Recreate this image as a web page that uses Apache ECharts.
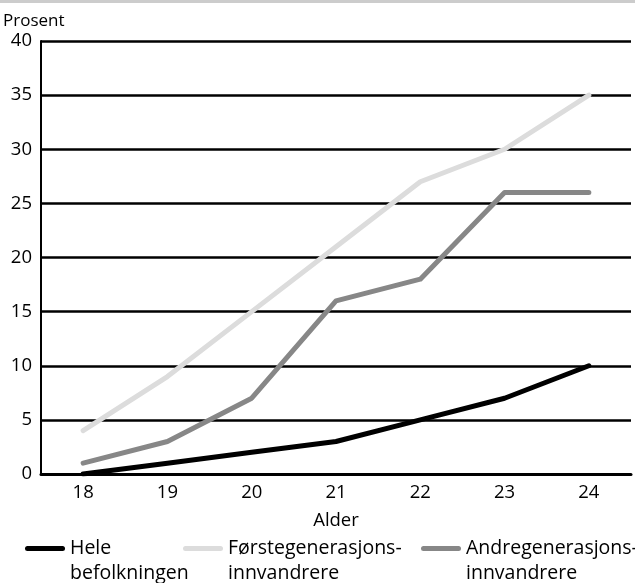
<!DOCTYPE html>
<html>
<head>
<meta charset="utf-8">
<script src="https://cdn.jsdelivr.net/npm/echarts@6/dist/echarts.min.js"></script>
<style>
html,body{margin:0;padding:0;background:#fff;}
#main{width:635px;height:583px;}
</style>
</head>
<body>
<div id="main"></div>
<script>
var ages = ['18','19','20','21','22','23','24'];
var hele = [0, 1, 2, 3, 5, 7, 10];
var forste = [4, 9, 15, 21, 27, 30, 35];
var andre = [1, 3, 7, 16, 18, 26, 26];
var names = ['Hele\nbefolkningen', 'Førstegenerasjons-\ninnvandrere', 'Andregenerasjons-\ninnvandrere'];
var colors = ['#000000', '#dcdcdc', '#878787'];

var font = 'Open Sans';

// bar at the top of a 40x30 box, so the icon lines up with the first text line
var legendIcon = 'path://M2.5,0L37.5,0A2.5,2.5,0,0,1,37.5,5L2.5,5A2.5,2.5,0,0,1,2.5,0ZM0,30';

function legendFor(i, left){
	return {
		data: [names[i]],
		left: left,
		top: 536,
		padding: 0,
		icon: legendIcon,
		itemWidth: 40,
		itemHeight: 30,
		itemGap: 2,
		selectedMode: false,
		textStyle: {
			fontFamily: font,
			fontSize: 19.5,
			color: '#000',
			lineHeight: 25
		}
	};
}

function lineSeries(i, data){
	return {
		name: names[i],
		type: 'line',
		data: data,
		symbol: 'none',
		itemStyle: {color: colors[i]},
		lineStyle: {color: colors[i], width: 5, cap: 'round', join: 'round'}
	};
}

var myChart = echarts.init(document.getElementById('main'));
myChart.setOption({
	animation: false,
	title: {
		text: 'Prosent',
		left: -2,
		top: 8,
		textStyle: {fontFamily: font, fontSize: 17, fontWeight: 'normal', color: '#000'}
	},
	graphic: [{
		type: 'rect',
		shape: {x: 0, y: 0, width: 635, height: 3},
		style: {fill: '#cccccc'}
	}],
	legend: [legendFor(0, 25), legendFor(1, 183), legendFor(2, 421)],
	grid: {left: 41, right: 4, top: 41, bottom: 109},
	xAxis: {
		type: 'category',
		data: ages,
		boundaryGap: true,
		name: 'Alder',
		nameLocation: 'middle',
		nameGap: 37,
		nameTextStyle: {fontFamily: font, fontSize: 18.5, color: '#000'},
		axisLine: {lineStyle: {color: '#000', width: 3}},
		axisTick: {alignWithLabel: true, inside: true, length: 8, lineStyle: {color: '#000', width: 2}},
		axisLabel: {fontFamily: font, fontSize: 18.5, color: '#000', margin: 9}
	},
	yAxis: {
		type: 'value',
		min: 0,
		max: 40,
		interval: 5,
		axisLine: {show: true, lineStyle: {color: '#000', width: 2}},
		axisTick: {show: false},
		axisLabel: {fontFamily: font, fontSize: 18.5, color: '#000', margin: 9},
		splitLine: {lineStyle: {color: '#000', width: 2.5}}
	},
	series: [
		lineSeries(1, forste),
		lineSeries(2, andre),
		lineSeries(0, hele)
	]
});
</script>
</body>
</html>
